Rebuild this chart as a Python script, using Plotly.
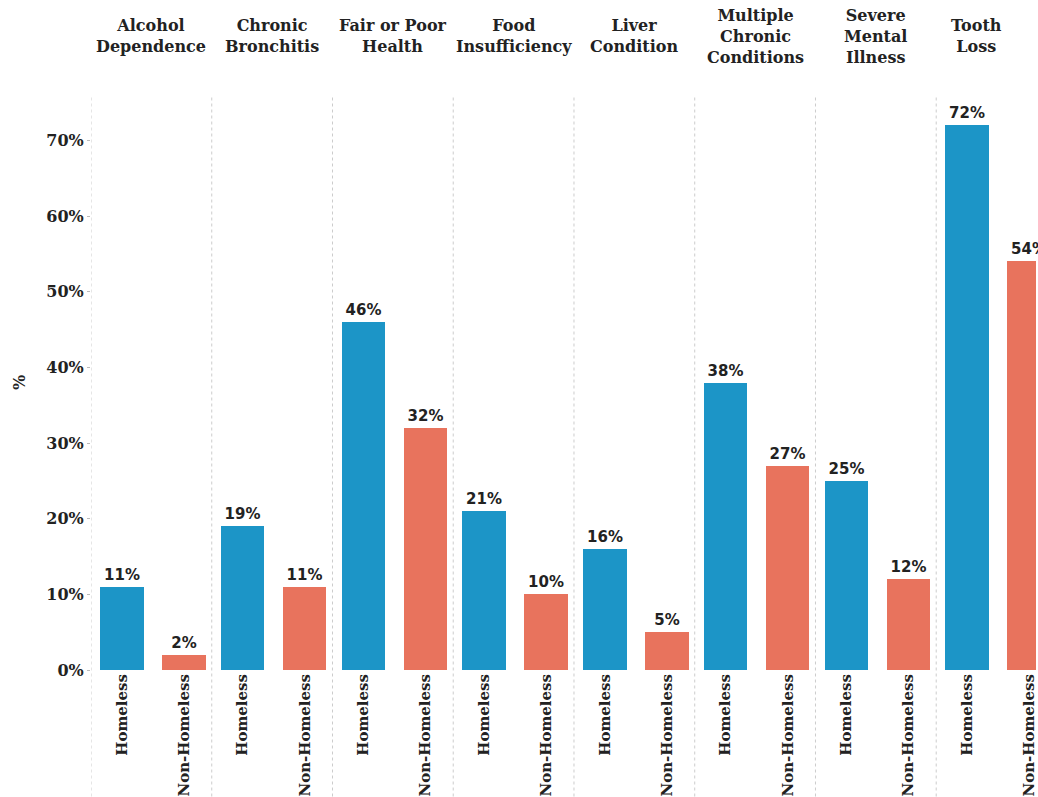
import plotly.graph_objects as go

categories = ["Alcohol<br>Dependence", "Chronic<br>Bronchitis", "Fair or Poor<br>Health",
              "Food<br>Insufficiency", "Liver<br>Condition", "Multiple<br>Chronic<br>Conditions",
              "Severe<br>Mental<br>Illness", "Tooth<br>Loss"]
groups = ["Homeless", "Non-Homeless"]
homeless = [11, 19, 46, 21, 16, 38, 25, 72]
non_homeless = [2, 11, 32, 10, 5, 27, 12, 54]
y_ticks = [0, 10, 20, 30, 40, 50, 60, 70]

BLUE = "#1c95c7"
ORANGE = "#e8735d"
SERIF = "DejaVu Serif"
SANS = "DejaVu Sans"

n = len(categories)
off_h, off_n, bw = 0.255, 0.77, 0.36
xh = [i + off_h for i in range(n)]
xn = [i + off_n for i in range(n)]

fig = go.Figure()
fig.add_trace(go.Bar(x=xh, y=homeless, width=bw, marker_color=BLUE, marker_line_width=0,
                     text=[f"{v}%" for v in homeless], textposition="outside",
                     textfont=dict(family=SANS, size=15, color="#222", weight="bold"),
                     cliponaxis=False, showlegend=False))
fig.add_trace(go.Bar(x=xn, y=non_homeless, width=bw, marker_color=ORANGE, marker_line_width=0,
                     text=[f"{v}%" for v in non_homeless], textposition="outside",
                     textfont=dict(family=SANS, size=15, color="#222", weight="bold"),
                     cliponaxis=False, showlegend=False))

# facet dividers
shapes = []
for i in range(n + 1):
    shapes.append(dict(type="line", xref="x", yref="paper", x0=i, x1=i, y0=-0.22, y1=1.0,
                       line=dict(color="#cccccc", width=1, dash="dot")))

annotations = []
for i, c in enumerate(categories):
    xc = i + 0.5 if i < n - 1 else i + 0.33
    annotations.append(dict(x=xc, y=1.102, xref="x", yref="paper", text=c, showarrow=False,
                            xanchor="center", yanchor="middle",
                            font=dict(family=SERIF, size=16, color="#222", weight="bold")))

tickvals = []
ticktext = []
for i in range(n):
    tickvals += [xh[i], xn[i]]
    ticktext += groups

fig.update_layout(
    width=1038, height=797,
    margin=dict(l=91, r=0, t=95, b=125),
    paper_bgcolor="white", plot_bgcolor="white",
    bargap=0,
    shapes=shapes, annotations=annotations,
    xaxis=dict(range=[0, (1038 - 91) / 121.0], tickvals=tickvals, ticktext=ticktext,
               tickangle=-90, showgrid=False, zeroline=False, showline=False, ticks="",
               ticklabeloverflow="allow",
               tickfont=dict(family=SERIF, size=15, color="#222", weight="bold")),
    yaxis=dict(range=[0, 76], tickvals=y_ticks, ticktext=[f"{v}%" for v in y_ticks],
               showgrid=False, zeroline=False, showline=False, ticks="outside", ticklen=3,
               tickcolor="#bbbbbb",
               tickfont=dict(family=SERIF, size=16, color="#222", weight="bold"),
               title=dict(text="%", standoff=16,
                          font=dict(family=SERIF, size=16, color="#222", weight="bold"))),
)

fig.write_html("out.html")
